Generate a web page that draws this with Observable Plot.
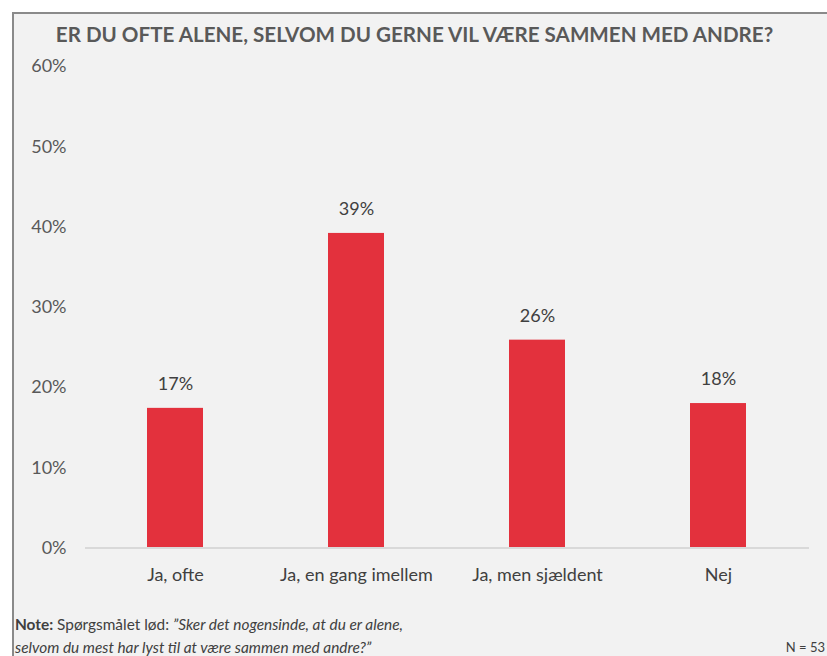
<!DOCTYPE html>
<html>
<head>
<meta charset="utf-8">
<script src="https://cdn.jsdelivr.net/npm/d3@7"></script>
<script src="https://cdn.jsdelivr.net/npm/@observablehq/plot@0.6"></script>
<style>
  html, body { margin: 0; padding: 0; background: #ffffff; width: 827px; height: 656px; overflow: hidden; }
  #frame { position: absolute; left: 12px; top: 12px; width: 840px; height: 680px; background: #F2F2F2;
           border-left: 2px solid #8a8a8a; border-top: 2px solid #8a8a8a; }
  #title { position: absolute; left: 0; width: 829px; top: 22px; text-align: center; font-family: Lato, sans-serif;
           font-weight: bold; font-size: 20.6px; color: #595959; white-space: nowrap; }
  #chart { position: absolute; left: 0; top: 0; }
  .note { position: absolute; left: 15px; font-family: Lato, sans-serif; font-size: 15.4px; color: #404040; white-space: nowrap; }
  #n { position: absolute; right: 2px; top: 639px; font-family: Lato, sans-serif; font-size: 13px; color: #404040; }
</style>
</head>
<body>
<div id="frame"></div>
<div id="title">ER DU OFTE ALENE, SELVOM DU GERNE VIL VÆRE SAMMEN MED ANDRE?</div>
<div id="chart"></div>
<div class="note" style="top:615px"><b>Note:</b> Spørgsmålet lød: <i>”Sker det nogensinde, at du er alene,</i></div>
<div class="note" style="top:638px"><i>selvom du mest har lyst til at være sammen med andre?”</i></div>
<div id="n">N = 53</div>
<script>
const categories = ["Ja, ofte", "Ja, en gang imellem", "Ja, men sjældent", "Nej"];
const values = [17.4, 39.2, 25.9, 18.0];
const yTicks = [0, 10, 20, 30, 40, 50, 60];

const data = categories.map((c, i) => ({cat: c, val: values[i]}));

const chart = Plot.plot({
  width: 827,
  height: 620,
  marginLeft: 85,
  marginRight: 18,
  marginTop: 66,
  marginBottom: 72.5,
  style: {background: "transparent", fontFamily: "Lato, sans-serif", overflow: "visible"},
  x: {domain: categories, paddingInner: 0.69, paddingOuter: 0.345, label: null},
  y: {domain: [0, 60], label: null},
  marks: [
    Plot.barY(data, {x: "cat", y: "val", fill: "#E3313D"}),
    Plot.ruleY([0], {stroke: "#D9D9D9", strokeWidth: 2}),
    Plot.text(data, {x: "cat", y: "val", text: d => Math.round(d.val) + "%", dy: -24, fontSize: 18, fill: "#404040"}),
    Plot.axisY({ticks: yTicks, tickFormat: d => d + "%", tickSize: 0, tickPadding: 19, fontSize: 18, fill: "#595959", label: null}),
    Plot.axisX({tickSize: 0, tickPadding: 20, fontSize: 18, fill: "#404040", label: null})
  ]
});
document.getElementById("chart").appendChild(chart);
</script>
</body>
</html>
